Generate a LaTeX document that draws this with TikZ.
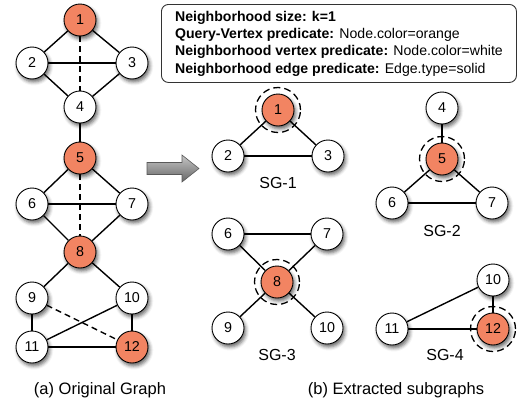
\documentclass[tikz,border=0pt]{standalone}
\usepackage{fontspec}
\setmainfont{Liberation Sans}
\usetikzlibrary{shadows.blur}
\definecolor{vorange}{RGB}{242,132,98}
\begin{document}
\begin{tikzpicture}[x=1pt,y=-1pt,
  vtx/.style={circle,draw=black,line width=0.9pt,fill=white,minimum size=32pt,
    inner sep=0pt,font=\fontsize{14.3}{14}\selectfont,
    blur shadow={shadow xshift=1.8pt,shadow yshift=-3pt,shadow blur radius=3.5pt,shadow opacity=60}},
  qvtx/.style={vtx,fill=vorange},
  ring/.style={circle,draw=black,line width=1.3pt,dash pattern=on 7pt off 4pt,
    minimum size=45pt,inner sep=0pt},
  edge/.style={line width=1.4pt},
  dedge/.style={edge,dash pattern=on 6pt off 4pt},
  sglabel/.style={font=\fontsize{16}{16}\selectfont},
  caption/.style={font=\fontsize{16.5}{16.5}\selectfont},
]
\useasboundingbox (0,0) rectangle (519,407);

% ---- original graph ----
\node[qvtx] (a1)  at (80,20)   {1};
\node[vtx]  (a2)  at (32,63)   {2};
\node[vtx]  (a3)  at (132,63)  {3};
\node[vtx]  (a4)  at (80,107)  {4};
\node[qvtx] (a5)  at (80,158)  {5};
\node[vtx]  (a6)  at (32,204)  {6};
\node[vtx]  (a7)  at (132,204) {7};
\node[qvtx] (a8)  at (80,252)  {8};
\node[vtx]  (a9)  at (32,298)  {9};
\node[vtx]  (a10) at (132,298) {10};
\node[vtx]  (a11) at (32,347)  {11};
\node[qvtx] (a12) at (132,347) {12};

\draw[edge] (a1) -- (a2);  \draw[edge] (a1) -- (a3);  \draw[edge] (a2) -- (a3);
\draw[edge] (a2) -- (a4);  \draw[edge] (a3) -- (a4);  \draw[dedge] (a1) -- (a4);
\draw[edge] (a4) -- (a5);
\draw[edge] (a5) -- (a6);  \draw[edge] (a5) -- (a7);  \draw[edge] (a6) -- (a7);
\draw[edge] (a6) -- (a8);  \draw[edge] (a7) -- (a8);  \draw[dedge] (a5) -- (a8);
\draw[edge] (a8) -- (a9);  \draw[edge] (a8) -- (a10);
\draw[edge] (a9) -- (a11); \draw[edge] (a10) -- (a12); \draw[edge] (a11) -- (a12);
\draw[edge] (a10) -- (a11); \draw[dedge] (a9) -- (a12);

\node[caption] (capa) at (100,390) {(a) Original Graph};

% ---- predicate box ----
\node[draw=black!80,line width=0.9pt,rounded corners=7pt,anchor=north west,
  minimum width=355pt,minimum height=78pt,inner xsep=9pt,align=left,
  font=\fontsize{14.1}{17.3}\selectfont] (pred) at (161,4)
  {\textbf{Neighborhood size: k=1}\\
   \textbf{Query-Vertex predicate:} Node.color=orange\\
   \textbf{Neighborhood vertex predicate:} Node.color=white\\
   \textbf{Neighborhood edge predicate:} Edge.type=solid};

% ---- block arrow ----
\shade[draw=black!65,line width=0.6pt,top color=gray!45,bottom color=black!60]
  (147,162.5) -- (182,162.5) -- (182,155) -- (199,168.5) -- (182,182)
  -- (182,174.5) -- (147,174.5) -- cycle;

% ---- SG-1 ----
\node[qvtx] (b1) at (278,110) {1};
\node[vtx]  (b2) at (228,156) {2};
\node[vtx]  (b3) at (328,156) {3};
\node[ring] (r1) at (b1) {};
\draw[edge] (b1) -- (b2); \draw[edge] (b1) -- (b3); \draw[edge] (b2) -- (b3);
\node[sglabel] (l1) at (278,183) {SG-1};

% ---- SG-2 ----
\node[vtx]  (c4) at (442,108) {4};
\node[qvtx] (c5) at (442,159) {5};
\node[vtx]  (c6) at (392,203) {6};
\node[vtx]  (c7) at (492,203) {7};
\node[ring] (r2) at (c5) {};
\draw[edge] (c4) -- (c5); \draw[edge] (c5) -- (c6); \draw[edge] (c5) -- (c7);
\draw[edge] (c6) -- (c7);
\node[sglabel] (l2) at (442,231) {SG-2};

% ---- SG-3 ----
\node[vtx]  (d6)  at (228,234) {6};
\node[vtx]  (d7)  at (327,234) {7};
\node[qvtx] (d8)  at (277,282) {8};
\node[vtx]  (d9)  at (228,328) {9};
\node[vtx]  (d10) at (327,328) {10};
\node[ring] (r3) at (d8) {};
\draw[edge] (d6) -- (d7); \draw[edge] (d6) -- (d8); \draw[edge] (d7) -- (d8);
\draw[edge] (d8) -- (d9); \draw[edge] (d8) -- (d10);
\node[sglabel] (l3) at (277,355) {SG-3};

% ---- SG-4 ----
\node[vtx]  (e10) at (493,280) {10};
\node[vtx]  (e11) at (392,329) {11};
\node[qvtx] (e12) at (493,329) {12};
\node[ring] (r4) at (e12) {};
\draw[edge] (e10) -- (e11); \draw[edge] (e10) -- (e12); \draw[edge] (e11) -- (e12);
\node[sglabel] (l4) at (445,355) {SG-4};

\node[caption] (capb) at (396,390) {(b) Extracted subgraphs};
\end{tikzpicture}
\end{document}
